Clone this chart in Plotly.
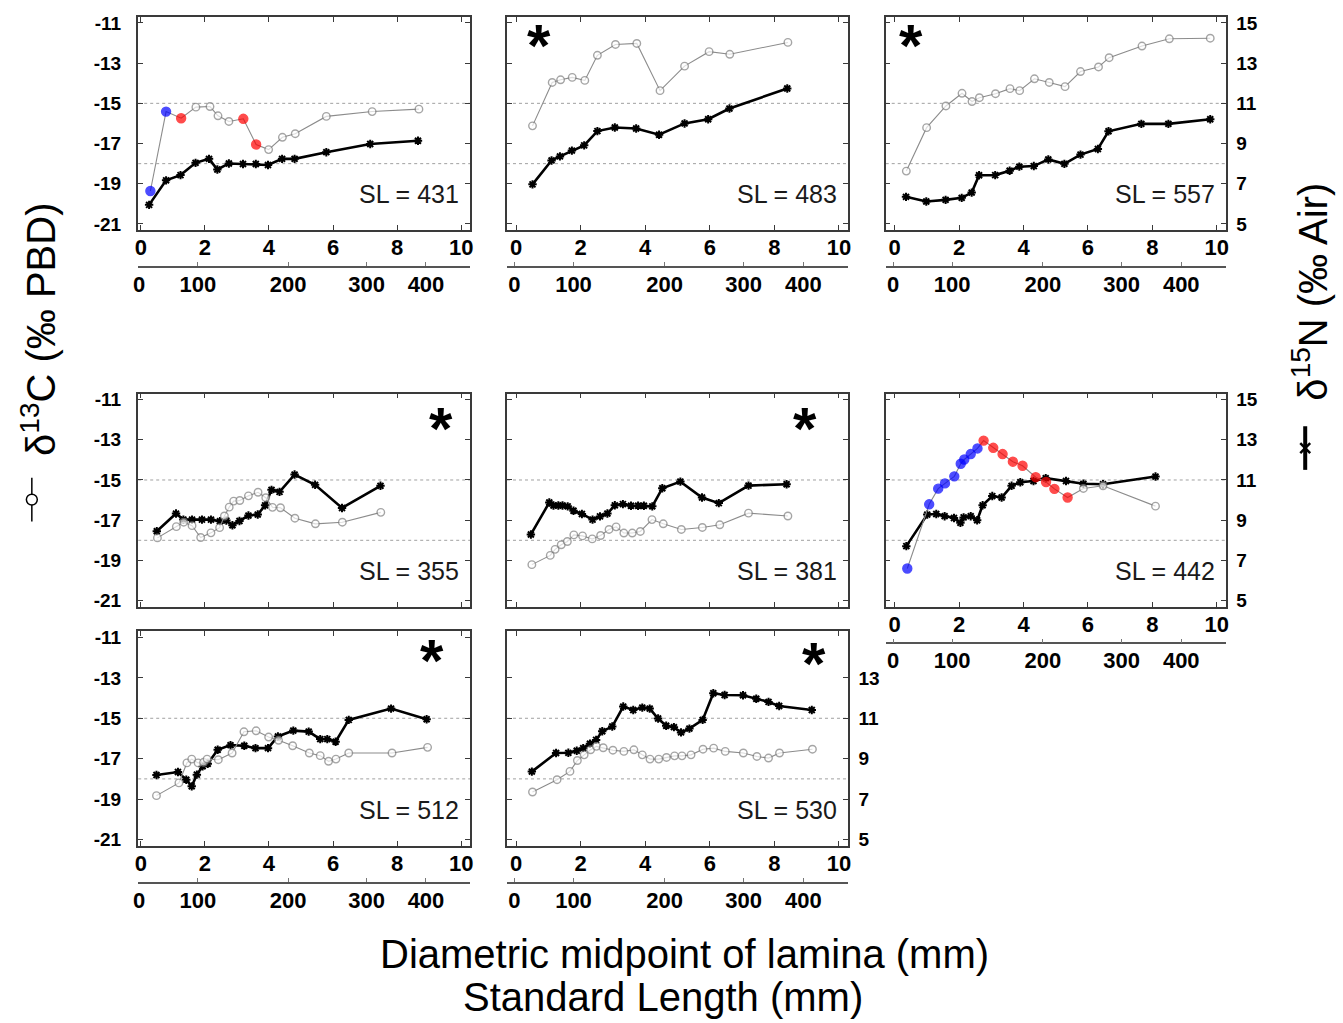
import plotly.graph_objects as go

# ---------------- data ----------------
# diametric midpoint of lamina (mm), d13C (permil PBD), class of point, d15N (permil Air)
sl_labels = ["SL = 431", "SL = 483", "SL = 557", "SL = 355", "SL = 381", "SL = 442", "SL = 512", "SL = 530"]

p431_xc = [0.30, 0.79, 1.26, 1.72, 2.16, 2.41, 2.75, 3.20, 3.60, 3.99, 4.42, 4.82, 5.79, 7.22, 8.68]
p431_c = [-19.36, -15.41, -15.74, -15.19, -15.16, -15.62, -15.90, -15.77, -17.05, -17.30, -16.69, -16.51, -15.65, -15.41, -15.29]
p431_cls = ["b", "b", "r", "", "", "", "", "r", "r", "", "", "", "", "", ""]
p431_xn = [0.26, 0.79, 1.24, 1.71, 2.13, 2.39, 2.75, 3.19, 3.59, 3.97, 4.41, 4.80, 5.79, 7.16, 8.65]
p431_n = [5.95, 7.17, 7.43, 8.04, 8.24, 7.71, 8.01, 7.98, 7.98, 7.93, 8.24, 8.24, 8.57, 8.98, 9.14]

p483_xc = [0.51, 1.12, 1.38, 1.74, 2.13, 2.52, 3.08, 3.74, 4.46, 5.22, 5.98, 6.62, 8.42]
p483_c = [-16.12, -13.96, -13.83, -13.71, -13.86, -12.61, -12.07, -12.02, -14.37, -13.15, -12.43, -12.56, -11.97]
p483_cls = [""] * 13
p483_xn = [0.51, 1.10, 1.36, 1.73, 2.11, 2.52, 3.06, 3.72, 4.43, 5.22, 5.95, 6.61, 8.40]
p483_n = [6.97, 8.16, 8.36, 8.65, 8.91, 9.62, 9.80, 9.75, 9.44, 10.00, 10.21, 10.74, 11.74]

p557_xc = [0.36, 0.99, 1.59, 2.09, 2.40, 2.63, 3.13, 3.58, 3.88, 4.34, 4.80, 5.29, 5.77, 6.33, 6.66, 7.68, 8.53, 9.80]
p557_c = [-18.37, -16.21, -15.13, -14.50, -14.91, -14.72, -14.52, -14.27, -14.37, -13.78, -13.96, -14.17, -13.42, -13.19, -12.73, -12.15, -11.79, -11.76]
p557_cls = [""] * 18
p557_xn = [0.35, 0.98, 1.58, 2.08, 2.39, 2.62, 3.12, 3.57, 3.87, 4.32, 4.77, 5.27, 5.77, 6.31, 6.64, 7.66, 8.50, 9.80]
p557_n = [6.35, 6.12, 6.20, 6.30, 6.56, 7.42, 7.43, 7.65, 7.85, 7.88, 8.21, 7.99, 8.45, 8.73, 9.61, 9.98, 9.98, 10.21]

p355_xc = [0.52, 1.11, 1.34, 1.60, 1.87, 2.19, 2.46, 2.61, 2.76, 2.90, 3.09, 3.36, 3.66, 3.90, 4.11, 4.36, 4.81, 5.45, 6.29, 7.49]
p355_c = [-17.88, -17.32, -17.10, -17.27, -17.86, -17.63, -17.37, -16.79, -16.35, -16.05, -16.02, -15.79, -15.61, -15.88, -16.36, -16.38, -16.90, -17.18, -17.10, -16.61]
p355_cls = [""] * 20
p355_xn = [0.50, 1.10, 1.33, 1.60, 1.91, 2.19, 2.47, 2.67, 2.86, 3.08, 3.36, 3.65, 3.88, 4.08, 4.33, 4.80, 5.44, 6.28, 7.48]
p355_n = [8.45, 9.33, 9.03, 9.03, 9.03, 9.03, 8.95, 8.98, 8.75, 8.96, 9.23, 9.28, 9.74, 10.51, 10.41, 11.27, 10.76, 9.61, 10.71]

p381_xc = [0.49, 1.06, 1.21, 1.40, 1.59, 1.79, 2.06, 2.36, 2.62, 2.88, 3.10, 3.34, 3.60, 3.85, 4.21, 4.56, 5.12, 5.77, 6.31, 7.20, 8.42]
p381_c = [-19.21, -18.75, -18.45, -18.22, -18.06, -17.73, -17.78, -17.93, -17.76, -17.46, -17.33, -17.64, -17.64, -17.56, -16.97, -17.18, -17.46, -17.36, -17.23, -16.65, -16.79]
p381_cls = [""] * 21
p381_xn = [0.46, 1.03, 1.16, 1.31, 1.44, 1.60, 1.78, 2.04, 2.37, 2.60, 2.83, 3.06, 3.31, 3.56, 3.78, 3.96, 4.22, 4.53, 5.09, 5.76, 6.28, 7.20, 8.38]
p381_n = [8.29, 9.88, 9.73, 9.73, 9.73, 9.69, 9.47, 9.31, 9.03, 9.19, 9.33, 9.74, 9.80, 9.72, 9.72, 9.72, 9.69, 10.59, 10.92, 10.13, 9.85, 10.72, 10.79]

p442_xc = [0.39, 1.07, 1.35, 1.56, 1.85, 2.05, 2.16, 2.36, 2.57, 2.76, 3.06, 3.35, 3.67, 3.97, 4.38, 4.70, 4.96, 5.37, 5.86, 6.47, 8.10]
p442_c = [-19.40, -16.21, -15.43, -15.17, -14.82, -14.19, -13.98, -13.71, -13.43, -13.04, -13.40, -13.71, -14.09, -14.29, -14.86, -15.10, -15.44, -15.87, -15.42, -15.29, -16.30]
p442_cls = ["b"] * 9 + ["r"] * 9 + [""] * 3
p442_xn = [0.36, 1.01, 1.29, 1.55, 1.84, 2.04, 2.14, 2.36, 2.56, 2.73, 3.03, 3.32, 3.63, 3.90, 4.31, 4.69, 5.32, 5.86, 6.47, 8.10]
p442_n = [7.71, 9.28, 9.31, 9.20, 9.11, 8.87, 9.14, 9.20, 9.00, 9.74, 10.20, 10.13, 10.71, 10.89, 10.95, 11.09, 10.95, 10.81, 10.79, 11.17]

p512_xc = [0.49, 1.19, 1.44, 1.59, 1.79, 1.96, 2.07, 2.42, 2.85, 3.22, 3.60, 3.99, 4.30, 4.74, 5.26, 5.60, 5.86, 6.09, 6.49, 7.84, 8.95]
p512_c = [-18.83, -18.20, -17.21, -17.02, -17.21, -17.18, -17.02, -17.05, -16.72, -15.67, -15.62, -15.93, -16.09, -16.36, -16.72, -16.85, -17.13, -17.02, -16.72, -16.72, -16.44]
p512_cls = [""] * 21
p512_xn = [0.49, 1.16, 1.42, 1.59, 1.75, 1.93, 2.09, 2.40, 2.80, 3.23, 3.58, 3.97, 4.28, 4.76, 5.24, 5.60, 5.82, 6.08, 6.49, 7.81, 8.92]
p512_n = [8.19, 8.34, 7.96, 7.63, 8.21, 8.62, 8.75, 9.44, 9.67, 9.64, 9.52, 9.52, 10.10, 10.39, 10.34, 9.97, 9.97, 9.84, 10.92, 11.48, 10.95]

p530_xc = [0.51, 1.27, 1.67, 1.90, 2.11, 2.31, 2.49, 2.70, 3.00, 3.34, 3.65, 3.91, 4.15, 4.42, 4.66, 4.91, 5.14, 5.42, 5.79, 6.12, 6.48, 7.04, 7.46, 7.82, 8.16, 9.18]
p530_c = [-18.65, -18.04, -17.63, -17.09, -16.81, -16.56, -16.39, -16.46, -16.58, -16.64, -16.56, -16.81, -17.02, -17.02, -16.94, -16.86, -16.86, -16.81, -16.53, -16.48, -16.64, -16.72, -16.89, -16.97, -16.72, -16.53]
p530_cls = [""] * 26
p530_xn = [0.49, 1.24, 1.62, 1.88, 2.08, 2.29, 2.48, 2.67, 2.98, 3.32, 3.63, 3.91, 4.14, 4.40, 4.65, 4.89, 5.11, 5.37, 5.78, 6.11, 6.46, 7.03, 7.44, 7.82, 8.15, 9.16]
p530_n = [8.36, 9.28, 9.29, 9.39, 9.52, 9.74, 9.93, 10.36, 10.59, 11.58, 11.41, 11.53, 11.48, 10.99, 10.63, 10.56, 10.30, 10.49, 10.92, 12.24, 12.15, 12.14, 11.97, 11.81, 11.61, 11.41]

significant = [False, True, True, True, True, False, True, True]

# axis tick definitions
diam_ticks = [0, 2, 4, 6, 8, 10]
c13_ticks = [-21, -19, -17, -15, -13, -11]
c13_tick_text = ["-21", "-19", "-17", "-15", "-13", "-11"]
n15_ticks = [5, 7, 9, 11, 13, 15]
sl_tick_text = ["0", "100", "200", "300", "400"]
sl_tick_diam = [-0.05, 1.78, 4.6, 7.05, 8.9]   # diametric position of each SL value
ref_c13 = [-15, -18]

# ---------------- figure ----------------
panels = [
    (p431_xc, p431_c, p431_cls, p431_xn, p431_n),
    (p483_xc, p483_c, p483_cls, p483_xn, p483_n),
    (p557_xc, p557_c, p557_cls, p557_xn, p557_n),
    (p355_xc, p355_c, p355_cls, p355_xn, p355_n),
    (p381_xc, p381_c, p381_cls, p381_xn, p381_n),
    (p442_xc, p442_c, p442_cls, p442_xn, p442_n),
    (p512_xc, p512_c, p512_cls, p512_xn, p512_n),
    (p530_xc, p530_c, p530_cls, p530_xn, p530_n),
]

W, H = 1343, 1023
FONT = "Liberation Sans, Arial, sans-serif"
col_px = [(134, 468), (505, 848), (886, 1228)]
row_px = [(13, 228), (393, 608), (633, 849)]
col_range = [[-0.08, 10.28], [-0.28, 10.28], [-0.28, 10.28]]
sl_line_px = [265, 645, 887]
pos_col = [0, 1, 2, 0, 1, 2, 0, 1]
pos_row = [0, 0, 0, 1, 1, 1, 2, 2]
show_x = [True, True, True, False, False, True, True, True]
right_lab = [False, False, True, False, False, True, False, True]
star_pos = [None, ("l", 32, 25), ("l", 25, 25), ("r", 29, 31), ("r", 43, 31), None, ("r", 38, 25), ("r", 34, 28)]

cls_fill = {"b": "#0000ff", "r": "#ff0000", "": "white"}
cls_line = {"b": "#0000ff", "r": "#ff0000", "": "#808080"}
cls_size = {"b": 9, "r": 9, "": 7.5}

fig = go.Figure()
layout = dict(width=W, height=H, margin=dict(l=0, r=0, t=0, b=0),
              paper_bgcolor="white", plot_bgcolor="white", showlegend=False,
              font=dict(family=FONT, color="black"))
annotations = []
shapes = []

for i, (xc, c, cls, xn, n) in enumerate(panels):
    p = i + 1
    xa, xs = 2 * p - 1, 2 * p        # diam axis, SL axis
    yb, yc = 2 * p - 1, 2 * p        # d15N base axis (right side), d13C overlay (left side)
    xa_n = "x" if xa == 1 else f"x{xa}"
    yb_n = "y" if yb == 1 else f"y{yb}"
    c0, c1 = col_px[pos_col[i]]
    r0, r1 = row_px[pos_row[i]]
    xdom = [c0 / W, c1 / W]
    ydom = [1 - r1 / H, 1 - r0 / H]
    rng = col_range[pos_col[i]]

    layout[f"xaxis{xa}"] = dict(
        domain=xdom, anchor=yb_n, range=rng, tickvals=diam_ticks,
        showline=True, linecolor="#3a3a3a", linewidth=1.5, mirror="ticks",
        ticks="inside", ticklen=5, tickcolor="#3a3a3a", tickwidth=1.2,
        showgrid=False, zeroline=False, showticklabels=show_x[i],
        tickfont=dict(family=FONT, size=22, color="black", weight="bold"),
        ticklabelstandoff=-3)
    layout[f"yaxis{yb}"] = dict(
        domain=ydom, anchor=xa_n, range=[4.7, 15.3], side="right",
        tickvals=n15_ticks if p != 8 else n15_ticks[:-1],
        showline=True, linecolor="#3a3a3a", linewidth=1.5, mirror="ticks",
        ticks="inside", ticklen=5, tickcolor="#3a3a3a", tickwidth=1.2,
        showgrid=False, zeroline=False, showticklabels=right_lab[i],
        tickfont=dict(family=FONT, size=19, color="black", weight="bold"),
        ticklabelstandoff=5)
    layout[f"yaxis{yc}"] = dict(
        overlaying=yb_n, anchor=xa_n, side="left", range=[-21.3, -10.7],
        tickvals=c13_ticks, ticktext=c13_tick_text, showline=False, ticks="",
        showgrid=False, zeroline=False, showticklabels=(pos_col[i] == 0),
        tickfont=dict(family=FONT, size=19, color="black", weight="bold"),
        ticklabelstandoff=16)
    if show_x[i]:
        layout[f"xaxis{xs}"] = dict(
            overlaying=xa_n, anchor="free", position=1 - sl_line_px[pos_row[i]] / H,
            side="bottom", range=rng, tickvals=sl_tick_diam, ticktext=sl_tick_text,
            showline=True, linecolor="#555555", linewidth=1.5, ticks="inside",
            ticklen=4, tickcolor="#777777", showgrid=False, zeroline=False,
            tickfont=dict(family=FONT, size=22, color="black", weight="bold"),
            ticklabelstandoff=-2)
        fig.add_trace(go.Scatter(x=[], y=[], xaxis=f"x{xs}", yaxis=yb_n,
                                 showlegend=False, hoverinfo="skip"))

    # reference lines
    for v in ref_c13:
        shapes.append(dict(type="line", xref=f"{xa_n} domain", yref=f"y{yc}",
                           x0=0, x1=1, y0=v, y1=v, layer="below",
                           line=dict(color="#a0a0a0", width=1, dash="dot")))

    # d15N series
    fig.add_trace(go.Scatter(
        x=xn, y=n, xaxis=xa_n, yaxis=yb_n, mode="lines+markers",
        line=dict(color="black", width=2.6),
        marker=dict(symbol="asterisk-open", size=7, color="black",
                    line=dict(color="black", width=2)),
        hoverinfo="x+y"))
    # d13C series
    fig.add_trace(go.Scatter(
        x=xc, y=c, xaxis=xa_n, yaxis=f"y{yc}", mode="lines+markers",
        line=dict(color="#8c8c8c", width=1.1),
        marker=dict(symbol="circle", size=[cls_size[k] for k in cls],
                    color=[cls_fill[k] for k in cls],
                    line=dict(color=[cls_line[k] for k in cls], width=1.4)),
        hoverinfo="x+y"))

    # SL annotation
    annotations.append(dict(
        text=sl_labels[i], xref=f"{xa_n} domain", yref=f"{yb_n} domain",
        x=1, y=0, xanchor="right", yanchor="middle", xshift=-9, yshift=36,
        showarrow=False, font=dict(family=FONT, size=25, color="#1a1a1a")))
    # significance asterisk
    if significant[i] and star_pos[i]:
        side, dx, dy = star_pos[i]
        annotations.append(dict(
            text="*", xref=f"{xa_n} domain", yref=f"{yb_n} domain",
            x=0 if side == "l" else 1, y=1, xanchor="center", yanchor="middle",
            xshift=dx if side == "l" else -dx, yshift=-(dy + 4),
            showarrow=False, font=dict(family=FONT, size=60, color="black", weight="bold")))

# axis titles
annotations.append(dict(text="δ<sup>13</sup>C (‰ PBD)", xref="paper", yref="paper",
                        x=34 / W, y=1 - 328 / H, textangle=-90, showarrow=False,
                        xanchor="center", yanchor="middle",
                        font=dict(family=FONT, size=40, color="black")))
annotations.append(dict(text="δ<sup>15</sup>N (‰ Air)", xref="paper", yref="paper",
                        x=1313 / W, y=1 - 290 / H, textangle=-90, showarrow=False,
                        xanchor="center", yanchor="middle",
                        font=dict(family=FONT, size=40, color="black")))
annotations.append(dict(text="Diametric midpoint of lamina (mm)", xref="paper", yref="paper",
                        x=684 / W, y=1 - 958 / H, showarrow=False,
                        xanchor="center", yanchor="middle",
                        font=dict(family=FONT, size=40, color="black")))
annotations.append(dict(text="Standard Length (mm)", xref="paper", yref="paper",
                        x=662 / W, y=1 - 1002 / H, showarrow=False,
                        xanchor="center", yanchor="middle",
                        font=dict(family=FONT, size=40, color="black")))

# legend glyphs beside the axis titles
def px(x, y):
    return x / W, 1 - y / H

gx0, gy0 = px(27, 478)
gx1, gy1 = px(27, 522)
shapes.append(dict(type="line", xref="paper", yref="paper", x0=gx0, y0=gy0, x1=gx1, y1=gy1,
                   line=dict(color="black", width=1.5)))
cx0, cy0 = px(21.5, 494.5)
cx1, cy1 = px(32.5, 505.5)
shapes.append(dict(type="circle", xref="paper", yref="paper", x0=cx0, y0=cy0, x1=cx1, y1=cy1,
                   fillcolor="white", line=dict(color="black", width=1.5)))
rx0, ry0 = px(1308, 426)
rx1, ry1 = px(1308, 470)
shapes.append(dict(type="line", xref="paper", yref="paper", x0=rx0, y0=ry0, x1=rx1, y1=ry1,
                   line=dict(color="black", width=4)))
for (a, b, cc, d) in [(1303, 443, 1313, 453), (1303, 453, 1313, 443)]:
    u0, v0 = px(a, b)
    u1, v1 = px(cc, d)
    shapes.append(dict(type="line", xref="paper", yref="paper", x0=u0, y0=v0, x1=u1, y1=v1,
                       line=dict(color="black", width=2.5)))

layout["annotations"] = annotations
layout["shapes"] = shapes
fig.update_layout(**layout)
fig.write_html("out.html")
